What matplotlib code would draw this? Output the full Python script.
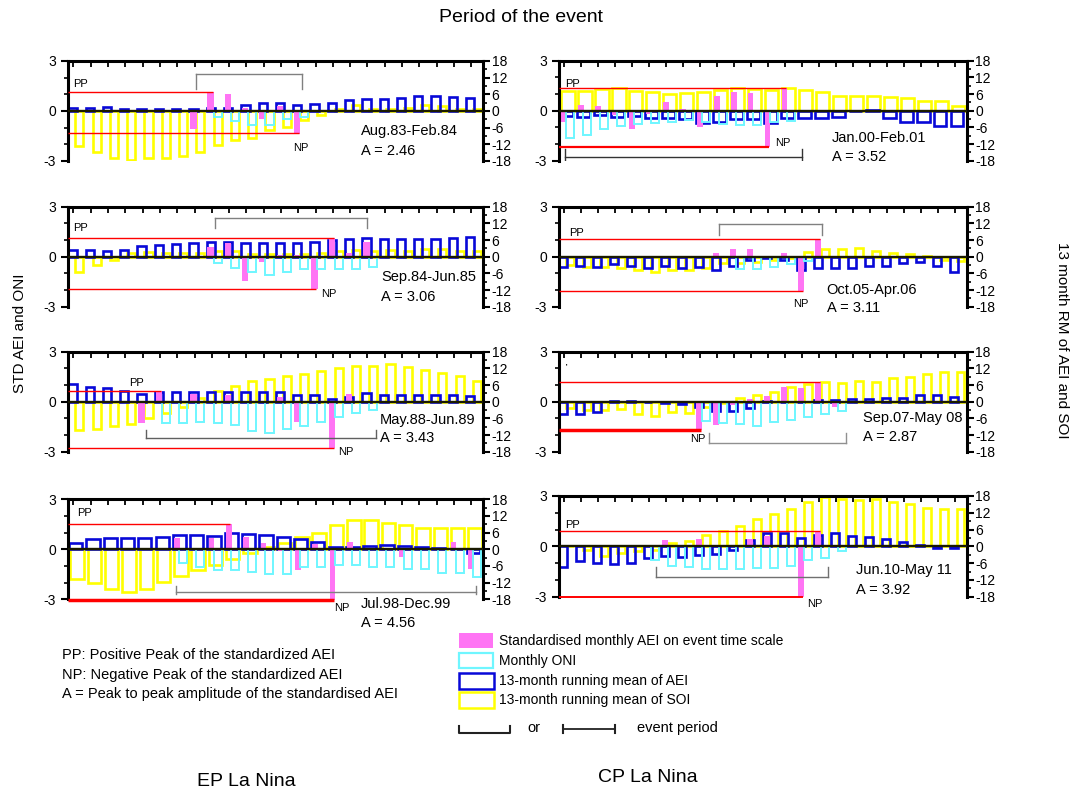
import numpy as np
import matplotlib
matplotlib.use('Agg')
from matplotlib import pyplot as plt
from matplotlib.patches import Rectangle

plt.rcParams['font.family'] = ['Liberation Sans', 'DejaVu Sans']
plt.rcParams['axes.unicode_minus'] = False

n = None
month_names = ['Jan', 'Feb', 'Mar', 'Apr', 'May', 'Jun', 'Jul', 'Aug', 'Sep', 'Oct', 'Nov', 'Dec']
label_months = [3, 7, 11, 15, 19, 23]

# EP La Nina 1983-1984
std_aei_8384 = [n, n, n, n, n, n, n, -1.1, 1.12, 1.04, 0.2, -0.5, 0.3, -1.4, n, n, n, n, n, n, n, n, n, n]
oni_8384 = [n, n, n, n, n, n, n, n, -0.34, -0.6, -0.84, -0.84, -0.5, -0.34, n, n, n, n, n, n, n, n, n, n]
rm_aei_8384 = [1.2, 1.2, 1.4, 0.6, 0.6, 0.6, 0.8, 0.8, 1.0, 1.2, 2.0, 2.8, 2.8, 2.3, 2.6, 3.0, 4.0, 4.4, 4.4, 4.8, 5.4, 5.4, 5.2, 4.8]
rm_soi_8384 = [-12.6, -14.8, -16.8, -17.6, -17.0, -16.8, -16.2, -14.8, -12.4, -10.4, -9.6, -6.8, -5.6, -3.2, -1.6, 0.6, 2.0, 0.8, 0.6, 1.2, 2.0, 1.8, 0.6, 0.6]

# EP La Nina 1984-1985
std_aei_8485 = [n, n, n, n, n, n, n, n, 0.6, 0.8, -1.45, -0.3, 0.1, 0.1, -1.96, 1.1, 0.2, 0.9, n, n, n, n, n, n]
oni_8485 = [n, n, n, n, n, n, n, n, -0.36, -0.7, -0.9, -1.1, -0.9, -0.76, -0.76, -0.76, -0.76, -0.64, n, n, n, n, n, n]
rm_aei_8485 = [2.4, 2.4, 2.2, 2.4, 3.8, 4.2, 4.4, 4.8, 5.4, 5.4, 5.0, 5.0, 5.0, 5.1, 5.4, 6.0, 6.2, 6.6, 6.2, 6.2, 6.2, 6.2, 6.6, 7.2]
rm_soi_8485 = [-5.4, -3.0, -1.2, 1.2, 1.8, 1.5, 1.5, 1.5, 2.0, 2.0, 0.8, 1.0, 0.9, 0.9, 1.5, 2.0, 2.5, 2.2, 2.5, 2.2, 2.8, 2.6, 2.2, 2.2]

# EP La Nina 1988-1989
std_aei_8889 = [n, n, n, n, -1.3, 0.67, n, 0.44, n, 0.4, n, n, 0.3, -1.2, n, -2.76, 0.44, n, n, n, n, n, n, n]
oni_8889 = [n, n, n, n, n, -1.3, -1.3, -1.2, -1.3, -1.4, -1.76, -1.9, -1.64, -1.44, -1.2, -0.9, -0.7, -0.5, n, n, n, n, n, n]
rm_aei_8889 = [6.2, 5.4, 4.8, 3.8, 2.6, 3.4, 3.6, 3.6, 3.6, 3.4, 3.6, 3.4, 3.4, 2.4, 2.4, 1.0, 1.8, 3.0, 2.4, 2.4, 2.4, 2.4, 2.4, 2.2]
rm_soi_8889 = [-10.2, -10.0, -8.6, -8.2, -5.8, -4.2, -1.8, 1.4, 3.8, 5.6, 7.4, 8.2, 9.4, 10.0, 11.0, 12.0, 13.0, 13.0, 13.6, 12.4, 11.4, 10.4, 9.4, 7.6]

# EP La Nina 1998-1999
std_aei_9899 = [n, n, n, n, n, n, 0.66, n, 0.66, 1.52, 0.72, 0.4, -0.1, -1.24, 0.3, -3.04, 0.46, n, n, -0.48, n, n, 0.46, -1.2]
oni_9899 = [n, n, n, n, n, n, -0.8, -1.08, -1.24, -1.24, -1.34, -1.48, -1.48, -1.08, -1.08, -0.94, -0.94, -1.08, -1.08, -1.2, -1.2, -1.44, -1.44, -1.64]
rm_aei_9899 = [2.4, 3.6, 4.0, 4.0, 4.0, 4.6, 5.2, 5.2, 4.8, 5.8, 5.5, 5.2, 4.6, 3.6, 2.8, 1.0, 0.8, 1.2, 1.4, 1.2, 1.0, 0.6, 0.0, -1.2]
rm_soi_9899 = [-10.8, -12.0, -14.4, -15.2, -14.4, -11.6, -9.6, -7.4, -5.6, -3.6, -1.4, 1.0, 2.4, 4.3, 6.0, 8.8, 10.6, 10.6, 9.6, 8.8, 7.6, 7.6, 7.6, 7.6]

# CP La Nina 2000-2001
std_aei_0001 = [-0.66, 0.34, 0.3, -0.25, -1.1, -0.2, 0.54, 0.1, -1.0, 0.86, 1.14, 1.04, -2.16, 1.36, n, n, n, n, n, n, n, n, n, n]
oni_0001 = [-1.64, -1.46, -1.1, -0.94, -0.8, -0.74, -0.66, -0.54, -0.7, -0.8, -0.86, -0.86, -0.7, -0.6, n, n, n, n, n, n, n, n, n, n]
rm_aei_0001 = [-2.0, -2.4, -1.6, -2.4, -2.0, -2.8, -2.8, -3.0, -4.4, -4.2, -3.0, -3.0, -4.4, -2.8, -2.8, -2.8, -2.4, -0.2, 0.2, -2.8, -4.2, -4.2, -5.6, -5.6]
rm_soi_0001 = [7.2, 7.2, 7.8, 8.0, 7.2, 6.8, 6.0, 6.4, 6.8, 7.6, 8.0, 7.8, 7.6, 8.0, 7.6, 6.8, 5.2, 5.2, 5.2, 4.8, 4.4, 3.6, 3.6, 1.8]

# CP La Nina 2005-2006
std_aei_0506 = [n, n, n, n, n, n, n, n, n, 0.24, 0.44, 0.44, 0.05, 0.2, -2.06, 1.05, n, n, n, n, n, n, n, n]
oni_0506 = [n, n, n, n, n, n, n, n, n, n, -0.76, -0.76, -0.64, -0.44, -0.24, n, n, n, n, n, n, n, n, n]
rm_aei_0506 = [-3.8, -3.4, -3.8, -2.6, -3.4, -4.2, -3.4, -4.2, -3.8, -4.8, -3.4, -1.2, -0.6, -1.2, -4.8, -4.2, -4.2, -4.2, -3.4, -3.4, -2.4, -1.8, -3.4, -5.4]
rm_soi_0506 = [-3.0, -3.6, -3.8, -4.2, -4.8, -5.4, -4.8, -4.8, -4.2, -2.4, -2.4, -2.0, -1.2, -0.6, 1.8, 2.6, 2.6, 3.0, 2.2, 1.2, 1.0, 0.2, -1.2, -1.4]

# CP La Nina 2007-2008
std_aei_0708 = [n, n, n, n, n, n, n, n, -1.67, -1.4, -0.2, 0.16, 0.36, 0.9, 0.8, 1.2, -0.3, n, n, n, n, n, n, n]
oni_0708 = [n, n, n, n, n, n, n, n, -1.16, -1.3, -1.36, -1.44, -1.24, -1.1, -0.9, -0.76, -0.56, n, n, n, n, n, n, n]
rm_aei_0708 = [-4.6, -4.6, -3.6, 0.2, 0.2, -0.2, -0.6, -1.0, -1.8, -3.4, -3.4, -2.4, 0.2, 0.0, 0.0, 0.6, 0.6, 1.0, 1.0, 1.4, 1.4, 2.4, 2.4, 1.8]
rm_soi_0708 = [-2.2, -3.0, -3.0, -2.6, -4.6, -5.0, -3.6, -4.2, -1.8, -0.6, 1.2, 2.4, 3.4, 5.4, 6.2, 7.0, 6.6, 7.4, 7.2, 8.4, 9.0, 9.8, 10.6, 10.6]

# CP La Nina 2010-2011
std_aei_1011 = [n, n, n, n, n, n, 0.36, n, 0.44, n, n, 0.44, 0.64, n, -3.0, 0.92, n, n, n, n, n, n, n, n]
oni_1011 = [n, n, n, n, n, -0.8, -1.16, -1.24, -1.36, -1.36, -1.36, -1.3, -1.3, -1.16, -0.84, -0.7, -0.3, n, n, n, n, n, n, n]
rm_aei_1011 = [-7.4, -5.4, -5.8, -6.2, -5.8, -4.3, -3.6, -3.8, -3.0, -2.6, -1.2, 2.2, 4.6, 4.6, 3.0, 4.2, 4.6, 3.8, 3.4, 2.6, 1.4, 0.4, -0.6, -0.6]
rm_soi_1011 = [0.0, -1.4, -3.4, -2.2, -1.8, -1.4, 1.2, 1.8, 4.2, 5.4, 7.2, 9.8, 11.4, 13.4, 15.8, 17.8, 17.0, 16.6, 17.0, 15.8, 15.0, 13.8, 13.2, 13.2]

# event info: years, positive peak (value, month), negative peak (value, month), period, amplitude
events = [
    dict(years=(1983, 1984), series=(std_aei_8384, oni_8384, rm_aei_8384, rm_soi_8384),
         pp=(1.12, 8), np_=(-1.34, 13), period='Aug.83-Feb.84', amp='A = 2.46'),
    dict(years=(1984, 1985), series=(std_aei_8485, oni_8485, rm_aei_8485, rm_soi_8485),
         pp=(1.1, 15), np_=(-1.96, 14), period='Sep.84-Jun.85', amp='A = 3.06'),
    dict(years=(1988, 1989), series=(std_aei_8889, oni_8889, rm_aei_8889, rm_soi_8889),
         pp=(0.67, 5), np_=(-2.76, 15), period='May.88-Jun.89', amp='A = 3.43'),
    dict(years=(1998, 1999), series=(std_aei_9899, oni_9899, rm_aei_9899, rm_soi_9899),
         pp=(1.52, 9), np_=(-3.04, 15), period='Jul.98-Dec.99', amp='A = 4.56'),
    dict(years=(2000, 2001), series=(std_aei_0001, oni_0001, rm_aei_0001, rm_soi_0001),
         pp=(1.36, 13), np_=(-2.16, 12), period='Jan.00-Feb.01', amp='A = 3.52'),
    dict(years=(2005, 2006), series=(std_aei_0506, oni_0506, rm_aei_0506, rm_soi_0506),
         pp=(1.05, 15), np_=(-2.06, 14), period='Oct.05-Apr.06', amp='A = 3.11'),
    dict(years=(2007, 2008), series=(std_aei_0708, oni_0708, rm_aei_0708, rm_soi_0708),
         pp=(1.2, 15), np_=(-1.67, 8), period='Sep.07-May 08', amp='A = 2.87'),
    dict(years=(2010, 2011), series=(std_aei_1011, oni_1011, rm_aei_1011, rm_soi_1011),
         pp=(0.92, 15), np_=(-3.0, 14), period='Jun.10-May 11', amp='A = 3.92'),
]

# layout: pixel box, bar style, bracket (x0, x1, y, leg from, leg to), label spots
layout = [
    dict(box=(68.3, 61, 483.3, 161), wide=False, br=(7.4, 13.5, 2.24, 2.24, 1.3), brc='#808080',
         txt=(16.9, -1.2, -2.4), pp_lab=(0.3, 1.6), np_lab=(13.0, -2.2), np_lw=1.0),
    dict(box=(68.3, 206.7, 483.3, 306.7), wide=False, br=(8.5, 17.3, 2.3, 2.3, 1.7), brc='#808080',
         txt=(18.1, -1.24, -2.4), pp_lab=(0.3, 1.7), np_lab=(14.6, -2.24), np_lw=1.0),
    dict(box=(68.3, 351.7, 483.3, 451.7), wide=False, br=(4.5, 17.8, -2.2, -2.2, -1.7), brc='#606060',
         txt=(18.0, -1.1, -2.2), pp_lab=(3.5, 1.14), np_lab=(15.6, -3.04), np_lw=1.0),
    dict(box=(68.3, 499.3, 483.3, 599.3), wide=True, br=(6.25, 23.6, -2.54, -2.2, -2.66), brc='#808080',
         txt=(16.9, -3.28, -4.4), pp_lab=(0.5, 2.16), np_lab=(15.4, -3.54), np_lw=2.5),
    dict(box=(559.3, 60.7, 966.7, 160.7), wide=True, br=(0.33, 14.3, -2.8, -2.3, -3.0), brc='#333333',
         txt=(16.05, -1.64, -2.8), pp_lab=(0.33, 1.6), np_lab=(12.7, -1.94), np_lw=1.6),
    dict(box=(559.3, 206.7, 966.7, 306.7), wide=False, br=(9.4, 15.5, 1.96, 1.96, 1.3), brc='#808080',
         txt=(15.75, -2.0, -3.1), pp_lab=(0.6, 1.44), np_lab=(13.8, -2.84), np_lw=1.0),
    dict(box=(559.3, 351.7, 966.7, 451.7), wide=False, br=(8.8, 16.9, -2.5, -2.5, -1.9), brc='#909090',
         txt=(17.9, -1.0, -2.1), pp_lab=None, np_lab=(7.7, -2.24), np_lw=2.5),
    dict(box=(559.3, 496, 966.7, 596.7), wide=False, br=(5.7, 15.85, -1.8, -1.8, -1.24), brc='#707070',
         txt=(17.5, -1.4, -2.6), pp_lab=(0.33, 1.3), np_lab=(14.6, -3.44), np_lw=1.4),
]

W, H = 1079, 794
fig = plt.figure(figsize=(W / 100, H / 100), dpi=100)

c_aei = '#ff74f4'
c_oni = '#6ff6ff'
c_rm_aei = '#0808d8'
c_soi = '#ffff00'

ov = fig.add_axes([0, 0, 1, 1])
ov.set_xlim(0, W)
ov.set_ylim(H, 0)
ov.axis('off')

x = np.arange(24)
for ev, lay in zip(events, layout):
    x0, y0, x1, y1 = lay['box']
    ax = fig.add_axes([x0 / W, 1 - y1 / H, (x1 - x0) / W, (y1 - y0) / H])
    ax2 = ax.twinx()
    ax.set_zorder(ax2.get_zorder() + 1)
    ax.patch.set_visible(False)

    aei, oni, rm_aei, rm_soi = [np.array(s, dtype=float) for s in ev['series']]
    if lay['wide']:
        g = dict(aei=(0.12, 0.32), oni=(0.4, 0.46), rm=(0.05, 0.76), soi=(0.12, 0.78))
    else:
        g = dict(aei=(0.05, 0.37), oni=(0.4, 0.47), rm=(0.0, 0.48), soi=(0.4, 0.47))

    m = ~np.isnan(aei)
    ax.bar(x[m] + g['aei'][0], aei[m], width=g['aei'][1], align='edge', color=c_aei, lw=0,
           clip_on=False)
    m = ~np.isnan(oni)
    ax.bar(x[m] + g['oni'][0], oni[m], width=g['oni'][1], align='edge', fill=False,
           edgecolor=c_oni, lw=1.4)
    ax2.bar(x + g['soi'][0], rm_soi, width=g['soi'][1], align='edge', fill=False,
            edgecolor=c_soi, lw=1.9)
    ax2.bar(x + g['rm'][0], rm_aei, width=g['rm'][1], align='edge', fill=False,
            edgecolor=c_rm_aei, lw=1.9)

    ax.axhline(0, color='#1a1a00', lw=1.7, zorder=3)

    # peak lines
    ppv, ppi = ev['pp']
    npv, npi = ev['np_']
    ax.hlines(ppv, 0, ppi + 0.35, color='red', lw=1.0, zorder=4, clip_on=False)
    ax.hlines(npv, 0, npi + 0.35, color='red', lw=lay['np_lw'], zorder=4, clip_on=False)

    # event period bracket
    bx0, bx1, by, l0, l1 = lay['br']
    ax.plot([bx0, bx1], [by, by], color=lay['brc'], lw=1.0, zorder=4)
    ax.plot([bx0, bx0], [l0, l1], color=lay['brc'], lw=1.0, zorder=4)
    ax.plot([bx1, bx1], [l0, l1], color=lay['brc'], lw=1.0, zorder=4)

    tx, ty1, ty2 = lay['txt']
    ax.text(tx, ty1, ev['period'], fontsize=10.5, ha='left', va='center', clip_on=False)
    ax.text(tx, ty2, ev['amp'], fontsize=10.5, ha='left', va='center', clip_on=False)
    if lay['pp_lab'] is not None:
        ax.text(lay['pp_lab'][0], lay['pp_lab'][1], 'PP', fontsize=8, ha='left', va='center')
    else:
        ax.text(0.4, 2.1, "''", fontsize=5, ha='left', va='center')
    ax.text(lay['np_lab'][0], lay['np_lab'][1], 'NP', fontsize=8, ha='left', va='center',
            clip_on=False)

    ax.set_xlim(0, 24)
    ax.set_ylim(-3, 3)
    ax2.set_ylim(-18, 18)

    ax.set_xticks([i + 0.45 for i in label_months])
    ax.set_xticklabels(['%s%d' % (month_names[i % 12], ev['years'][i // 12]) for i in label_months])
    ax.set_xticks(x + 0.3, minor=True)
    ax.tick_params(axis='x', which='major', top=True, bottom=False, labeltop=True,
                   labelbottom=False, length=0, labelsize=8.5, pad=5)
    ax.tick_params(axis='x', which='minor', top=True, bottom=False, direction='in',
                   length=4, width=1.3)
    ax.set_yticks([-3, 0, 3])
    ax.set_yticks([-2, -1, 1, 2], minor=True)
    ax.tick_params(axis='y', which='major', direction='out', length=5, width=1.5,
                   labelsize=10, pad=4)
    ax.tick_params(axis='y', which='minor', direction='out', length=3, width=1.2)
    ax2.set_yticks(range(-18, 19, 6))
    ax2.set_yticks(range(-15, 16, 6), minor=True)
    ax2.tick_params(axis='y', which='major', direction='out', length=5, width=1.5,
                    labelsize=10, pad=1)
    ax2.tick_params(axis='y', which='minor', direction='out', length=3, width=1.2)
    ax2.set_xticks([])

    for sp in ['bottom', 'right']:
        ax.spines[sp].set_visible(False)
    for sp in ['bottom', 'left', 'top']:
        ax2.spines[sp].set_visible(False)
    ax.spines['top'].set_linewidth(2.2)
    ax.spines['left'].set_linewidth(2.2)
    ax2.spines['right'].set_linewidth(2.2)

# figure texts
ov.text(521, 18, 'Period of the event', fontsize=14, ha='center', va='center')
ov.text(20, 333, 'STD AEI and ONI', fontsize=11, rotation=90, ha='center', va='center')
ov.text(1062, 340, '13 month RM of AEI and SOI', fontsize=11, rotation=270,
        ha='center', va='center')

ov.text(62, 655, 'PP: Positive Peak of the standardized AEI', fontsize=10.5, va='center')
ov.text(62, 675, 'NP: Negative Peak of the standardized AEI', fontsize=10.5, va='center')
ov.text(62, 694, 'A = Peak to peak amplitude of the standardised AEI', fontsize=10.5, va='center')

ov.add_patch(Rectangle((459, 633), 34, 15, facecolor=c_aei, edgecolor='none'))
ov.add_patch(Rectangle((459, 652.5), 34, 15.5, fill=False, edgecolor=c_oni, lw=1.6))
ov.add_patch(Rectangle((459, 673), 35, 15.5, fill=False, edgecolor=c_rm_aei, lw=1.8))
ov.add_patch(Rectangle((459, 692), 35, 16, fill=False, edgecolor=c_soi, lw=1.8))
leg_labels = ['Standardised monthly AEI on event time scale', 'Monthly ONI',
              '13-month running mean of AEI', '13-month running mean of SOI']
for lab, yy in zip(leg_labels, [641.5, 661, 681, 700]):
    ov.text(499, yy, lab, fontsize=10, va='center')

ov.plot([459, 459, 510, 510], [726, 733, 733, 726], color='#222222', lw=1.5)
ov.text(527, 728, 'or', fontsize=10.5, va='center')
ov.plot([563, 615], [728.5, 728.5], color='#222222', lw=1.3)
ov.plot([563, 563], [725, 732.5], color='#222222', lw=1.5)
ov.plot([615, 615], [725, 732.5], color='#222222', lw=1.5)
ov.text(637, 728, 'event period', fontsize=10.5, va='center')

ov.text(246, 781, 'EP La Nina', fontsize=14, ha='center', va='center')
ov.text(648, 778, 'CP La Nina', fontsize=14, ha='center', va='center')

fig.savefig('out.png', dpi=100)
